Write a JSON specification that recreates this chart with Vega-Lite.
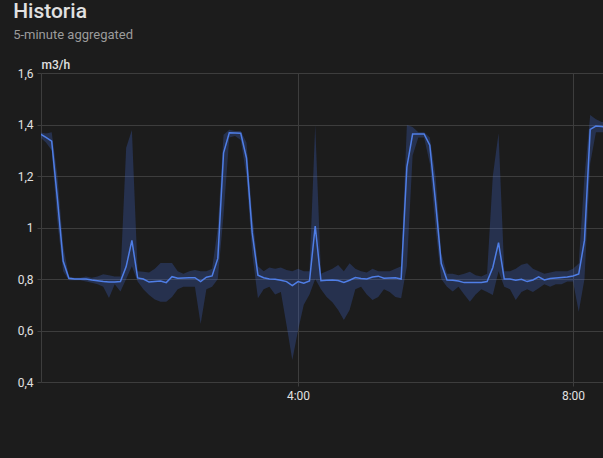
{
  "$schema": "https://vega.github.io/schema/vega-lite/v6.json",
  "autosize": "none",
  "width": 562,
  "height": 309,
  "padding": {"left": 41, "top": 73, "right": 0, "bottom": 76},
  "background": "#1c1c1c",
  "title": {
    "text": "Historia",
    "subtitle": "5-minute aggregated",
    "anchor": "start",
    "frame": "bounds",
    "dx": -4,
    "offset": 16,
    "font": "Roboto",
    "fontSize": 21,
    "fontWeight": 500,
    "color": "#e1e1e1",
    "subtitleFont": "Roboto",
    "subtitleFontSize": 13,
    "subtitleColor": "#9b9b9b",
    "subtitlePadding": 7
  },
  "data": {
    "values": [
      {"t": "00:15", "v": 1.363, "lo": 1.35, "hi": 1.37},
      {"t": "00:20", "v": 1.35, "lo": 1.33, "hi": 1.365},
      {"t": "00:25", "v": 1.335, "lo": 1.3, "hi": 1.37},
      {"t": "00:30", "v": 1.11, "lo": 1.02, "hi": 1.2},
      {"t": "00:35", "v": 0.87, "lo": 0.83, "hi": 0.93},
      {"t": "00:40", "v": 0.803, "lo": 0.795, "hi": 0.81},
      {"t": "00:45", "v": 0.8, "lo": 0.795, "hi": 0.805},
      {"t": "00:50", "v": 0.8, "lo": 0.795, "hi": 0.805},
      {"t": "00:55", "v": 0.8, "lo": 0.79, "hi": 0.81},
      {"t": "01:00", "v": 0.796, "lo": 0.785, "hi": 0.805},
      {"t": "01:05", "v": 0.793, "lo": 0.78, "hi": 0.81},
      {"t": "01:10", "v": 0.79, "lo": 0.77, "hi": 0.818},
      {"t": "01:15", "v": 0.788, "lo": 0.726, "hi": 0.815},
      {"t": "01:20", "v": 0.788, "lo": 0.78, "hi": 0.81},
      {"t": "01:25", "v": 0.79, "lo": 0.751, "hi": 0.81},
      {"t": "01:30", "v": 0.848, "lo": 0.8, "hi": 1.31},
      {"t": "01:35", "v": 0.95, "lo": 0.85, "hi": 1.379},
      {"t": "01:40", "v": 0.804, "lo": 0.79, "hi": 0.83},
      {"t": "01:45", "v": 0.8, "lo": 0.76, "hi": 0.828},
      {"t": "01:50", "v": 0.788, "lo": 0.738, "hi": 0.825},
      {"t": "01:55", "v": 0.79, "lo": 0.72, "hi": 0.84},
      {"t": "02:00", "v": 0.792, "lo": 0.712, "hi": 0.862},
      {"t": "02:05", "v": 0.786, "lo": 0.712, "hi": 0.862},
      {"t": "02:10", "v": 0.809, "lo": 0.73, "hi": 0.862},
      {"t": "02:15", "v": 0.803, "lo": 0.76, "hi": 0.83},
      {"t": "02:20", "v": 0.804, "lo": 0.77, "hi": 0.82},
      {"t": "02:25", "v": 0.805, "lo": 0.77, "hi": 0.83},
      {"t": "02:30", "v": 0.805, "lo": 0.77, "hi": 0.835},
      {"t": "02:35", "v": 0.79, "lo": 0.625, "hi": 0.83},
      {"t": "02:40", "v": 0.807, "lo": 0.76, "hi": 0.83},
      {"t": "02:45", "v": 0.812, "lo": 0.77, "hi": 0.84},
      {"t": "02:50", "v": 0.88, "lo": 0.8, "hi": 1.0},
      {"t": "02:55", "v": 1.29, "lo": 1.05, "hi": 1.36},
      {"t": "03:00", "v": 1.368, "lo": 1.35, "hi": 1.38},
      {"t": "03:05", "v": 1.367, "lo": 1.355, "hi": 1.375},
      {"t": "03:10", "v": 1.366, "lo": 1.34, "hi": 1.375},
      {"t": "03:15", "v": 1.27, "lo": 1.2, "hi": 1.33},
      {"t": "03:20", "v": 0.98, "lo": 0.9, "hi": 1.05},
      {"t": "03:25", "v": 0.815, "lo": 0.725, "hi": 0.85},
      {"t": "03:30", "v": 0.805, "lo": 0.76, "hi": 0.83},
      {"t": "03:35", "v": 0.8, "lo": 0.77, "hi": 0.845},
      {"t": "03:40", "v": 0.799, "lo": 0.74, "hi": 0.84},
      {"t": "03:45", "v": 0.795, "lo": 0.75, "hi": 0.845},
      {"t": "03:50", "v": 0.79, "lo": 0.62, "hi": 0.835},
      {"t": "03:55", "v": 0.774, "lo": 0.485, "hi": 0.83},
      {"t": "04:00", "v": 0.79, "lo": 0.6, "hi": 0.84},
      {"t": "04:05", "v": 0.784, "lo": 0.7, "hi": 0.83},
      {"t": "04:10", "v": 0.792, "lo": 0.74, "hi": 0.83},
      {"t": "04:15", "v": 1.006, "lo": 0.8, "hi": 1.398},
      {"t": "04:20", "v": 0.793, "lo": 0.76, "hi": 0.82},
      {"t": "04:25", "v": 0.795, "lo": 0.73, "hi": 0.83},
      {"t": "04:30", "v": 0.796, "lo": 0.71, "hi": 0.84},
      {"t": "04:35", "v": 0.794, "lo": 0.68, "hi": 0.854},
      {"t": "04:40", "v": 0.787, "lo": 0.641, "hi": 0.83},
      {"t": "04:45", "v": 0.795, "lo": 0.68, "hi": 0.861},
      {"t": "04:50", "v": 0.806, "lo": 0.76, "hi": 0.84},
      {"t": "04:55", "v": 0.802, "lo": 0.77, "hi": 0.83},
      {"t": "05:00", "v": 0.8, "lo": 0.74, "hi": 0.825},
      {"t": "05:05", "v": 0.808, "lo": 0.718, "hi": 0.84},
      {"t": "05:10", "v": 0.811, "lo": 0.73, "hi": 0.83},
      {"t": "05:15", "v": 0.803, "lo": 0.76, "hi": 0.83},
      {"t": "05:20", "v": 0.804, "lo": 0.75, "hi": 0.83},
      {"t": "05:25", "v": 0.805, "lo": 0.73, "hi": 0.84},
      {"t": "05:30", "v": 0.8, "lo": 0.725, "hi": 0.85},
      {"t": "05:35", "v": 1.235, "lo": 0.85, "hi": 1.398},
      {"t": "05:40", "v": 1.363, "lo": 1.28, "hi": 1.39},
      {"t": "05:45", "v": 1.363, "lo": 1.35, "hi": 1.37},
      {"t": "05:50", "v": 1.363, "lo": 1.35, "hi": 1.37},
      {"t": "05:55", "v": 1.32, "lo": 1.25, "hi": 1.35},
      {"t": "06:00", "v": 1.1, "lo": 1.0, "hi": 1.2},
      {"t": "06:05", "v": 0.86, "lo": 0.8, "hi": 0.9},
      {"t": "06:10", "v": 0.796, "lo": 0.77, "hi": 0.82},
      {"t": "06:15", "v": 0.795, "lo": 0.751, "hi": 0.82},
      {"t": "06:20", "v": 0.792, "lo": 0.77, "hi": 0.815},
      {"t": "06:25", "v": 0.786, "lo": 0.74, "hi": 0.82},
      {"t": "06:30", "v": 0.786, "lo": 0.712, "hi": 0.828},
      {"t": "06:35", "v": 0.786, "lo": 0.74, "hi": 0.815},
      {"t": "06:40", "v": 0.786, "lo": 0.76, "hi": 0.81},
      {"t": "06:45", "v": 0.79, "lo": 0.75, "hi": 0.82},
      {"t": "06:50", "v": 0.845, "lo": 0.738, "hi": 1.2},
      {"t": "06:55", "v": 0.941, "lo": 0.83, "hi": 1.366},
      {"t": "07:00", "v": 0.8, "lo": 0.77, "hi": 0.83},
      {"t": "07:05", "v": 0.8, "lo": 0.76, "hi": 0.83},
      {"t": "07:10", "v": 0.795, "lo": 0.718, "hi": 0.84},
      {"t": "07:15", "v": 0.799, "lo": 0.75, "hi": 0.855},
      {"t": "07:20", "v": 0.79, "lo": 0.76, "hi": 0.861},
      {"t": "07:25", "v": 0.796, "lo": 0.75, "hi": 0.84},
      {"t": "07:30", "v": 0.808, "lo": 0.764, "hi": 0.83},
      {"t": "07:35", "v": 0.796, "lo": 0.78, "hi": 0.82},
      {"t": "07:40", "v": 0.802, "lo": 0.77, "hi": 0.825},
      {"t": "07:45", "v": 0.804, "lo": 0.78, "hi": 0.83},
      {"t": "07:50", "v": 0.806, "lo": 0.78, "hi": 0.83},
      {"t": "07:55", "v": 0.808, "lo": 0.79, "hi": 0.83},
      {"t": "08:00", "v": 0.812, "lo": 0.79, "hi": 0.84},
      {"t": "08:05", "v": 0.82, "lo": 0.673, "hi": 0.86},
      {"t": "08:10", "v": 0.95, "lo": 0.8, "hi": 1.2},
      {"t": "08:15", "v": 1.381, "lo": 1.25, "hi": 1.437},
      {"t": "08:20", "v": 1.394, "lo": 1.37, "hi": 1.42},
      {"t": "08:25", "v": 1.392, "lo": 1.37, "hi": 1.41},
      {"t": "08:30", "v": 1.39, "lo": 1.37, "hi": 1.41}
    ],
    "format": {"parse": {"t": "utc:'%H:%M'"}}
  },
  "encoding": {
    "x": {
      "field": "t",
      "type": "temporal",
      "scale": {
        "type": "utc",
        "domain": [
          {"year": 1900, "month": 1, "date": 1, "hours": 0, "minutes": 15, "seconds": 40, "utc": true},
          {"year": 1900, "month": 1, "date": 1, "hours": 8, "minutes": 26, "seconds": 10, "utc": true}
        ]
      },
      "axis": {
        "title": null,
        "values": [
          {"year": 1900, "month": 1, "date": 1, "hours": 4, "utc": true},
          {"year": 1900, "month": 1, "date": 1, "hours": 8, "utc": true}
        ],
        "labelExpr": "utcFormat(datum.value, '%-H:%M')",
        "grid": true,
        "gridColor": "#3d3d3d",
        "domain": false,
        "ticks": true,
        "tickSize": 4,
        "tickColor": "#3d3d3d",
        "labelPadding": 4,
        "labelFont": "Roboto",
        "labelFontSize": 12,
        "labelColor": "#e1e1e1"
      }
    }
  },
  "layer": [
    {
      "mark": {"type": "area", "color": "#4269d0", "opacity": 0.28, "clip": true, "interpolate": "linear"},
      "encoding": {
        "y": {"field": "lo", "type": "quantitative"},
        "y2": {"field": "hi"}
      }
    },
    {
      "mark": {"type": "line", "color": "#4f7ee6", "strokeWidth": 1.5, "clip": true, "interpolate": "linear"},
      "encoding": {
        "y": {
          "field": "v",
          "type": "quantitative",
          "scale": {"domain": [0.4, 1.6], "zero": false, "nice": false},
          "axis": {
            "title": "m3/h",
            "titleAngle": 0,
            "titleAlign": "left",
            "titleBaseline": "alphabetic",
            "titleX": 0,
            "titleY": -5,
            "titleFont": "Roboto",
            "titleFontSize": 12,
            "titleFontWeight": 500,
            "titleColor": "#e1e1e1",
            "values": [0.4, 0.6, 0.8, 1.0, 1.2, 1.4, 1.6],
            "labelExpr": "replace(format(datum.value, '.1~f'), '.', ',')",
            "labelFont": "Roboto",
            "labelFontSize": 12,
            "labelColor": "#e1e1e1",
            "labelPadding": 4,
            "grid": true,
            "gridColor": "#3d3d3d",
            "domain": true,
            "domainColor": "#3d3d3d",
            "ticks": true,
            "tickSize": 4,
            "tickColor": "#3d3d3d"
          }
        }
      }
    }
  ],
  "config": {
    "view": {"stroke": null}
  }
}
